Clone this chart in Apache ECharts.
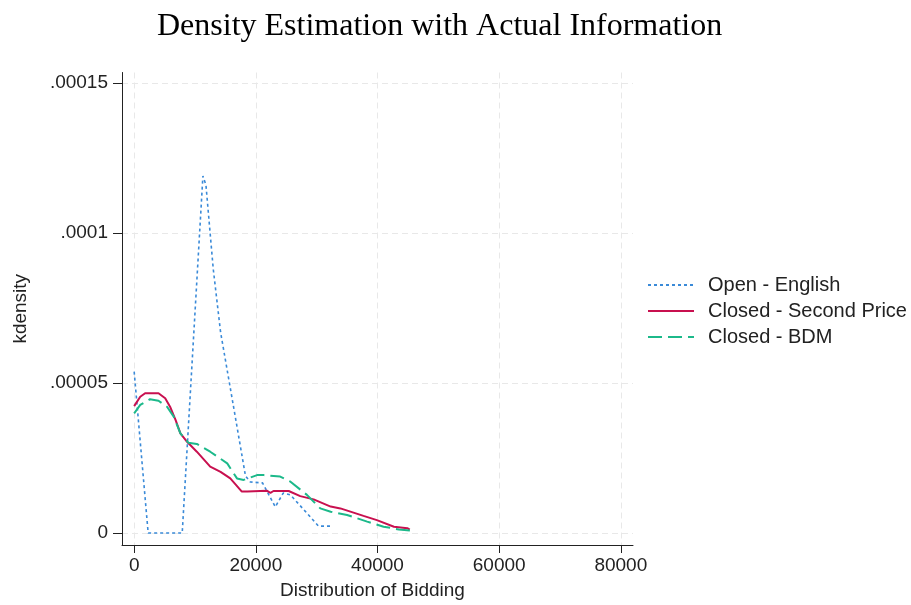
<!DOCTYPE html>
<html>
<head>
<meta charset="utf-8">
<style>
  html, body { margin: 0; padding: 0; background: #fff; }
  #chart-container { width: 911px; height: 605px; }
</style>
<script src="https://cdn.jsdelivr.net/npm/echarts@6/dist/echarts.min.js"></script>
</head>
<body>
<div id="chart-container"></div>
<script>
var dom = document.getElementById("chart-container");
var myChart = echarts.init(dom, null, {
  renderer: "canvas",
  useDirtyRect: false
});

// tick positions
var xTicks = [0, 20000, 40000, 60000, 80000];
var yTicks = [0, 0.00005, 0.0001, 0.00015];

// Open - English
var englishX = [0, 2300, 7900, 11300, 11800, 13000, 14200, 16600, 18300, 19100, 21100, 23200, 24500, 25700, 30300, 32600];
var englishY = [5.38e-5, 0, 0, 1.19e-4, 1.16e-4, 8.8e-5, 6.7e-5, 3.9e-5, 1.9e-5, 1.7e-5, 1.67e-5, 8.7e-6, 1.33e-5, 1.27e-5, 2.3e-6, 2.3e-6];

// Closed - Second Price
var secondX = [0, 1000, 1800, 4000, 5100, 5900, 6800, 7600, 8700, 10300, 12500, 14200, 15800, 17700, 18600, 21800, 22400, 22900, 25400, 27300, 29500, 32300, 33900, 37700, 39900, 42700, 44900, 45300];
var secondY = [4.23e-5, 4.54e-5, 4.66e-5, 4.66e-5, 4.49e-5, 4.21e-5, 3.77e-5, 3.32e-5, 3.04e-5, 2.71e-5, 2.21e-5, 2.04e-5, 1.82e-5, 1.38e-5, 1.38e-5, 1.41e-5, 1.34e-5, 1.40e-5, 1.40e-5, 1.23e-5, 1.12e-5, 8.8e-6, 8.2e-6, 5.7e-6, 4.3e-6, 2.1e-6, 1.6e-6, 1.1e-6];

// Closed - BDM
var bdmX = [0, 1000, 2600, 4000, 5400, 6500, 7600, 8900, 10300, 12500, 15300, 16900, 18000, 20200, 21300, 24000, 25700, 28400, 30600, 32300, 35000, 38300, 41000, 43500, 45400];
var bdmY = [3.99e-5, 4.27e-5, 4.46e-5, 4.41e-5, 4.21e-5, 3.88e-5, 3.32e-5, 3.01e-5, 2.97e-5, 2.71e-5, 2.32e-5, 1.82e-5, 1.77e-5, 1.93e-5, 1.93e-5, 1.88e-5, 1.71e-5, 1.27e-5, 8.2e-6, 7.1e-6, 6.0e-6, 3.8e-6, 2.1e-6, 1.2e-6, 8e-7];

function zip(xs, ys) {
  return xs.map(function (x, i) {
    return [x, ys[i]];
  });
}

var sans = "Liberation Sans";
var gridLine = { show: true, lineStyle: { color: "#e8e8e8", type: [6, 4], width: 1 } };

var option = {
  backgroundColor: "#fff",
  animation: false,
  title: {
    text: "Density Estimation with Actual Information",
    left: 157,
    top: 11,
    padding: 0,
    textStyle: {
      fontFamily: "Liberation Serif",
      fontSize: 32,
      fontWeight: "normal",
      color: "#000"
    }
  },
  legend: {
    orient: "vertical",
    left: 647,
    top: 275,
    padding: 0,
    itemWidth: 46,
    itemHeight: 14,
    itemGap: 6,
    itemStyle: { opacity: 0 },
    textStyle: {
      fontFamily: sans,
      fontSize: 20,
      lineHeight: 20,
      color: "#222",
      padding: [0, 0, 0, 9]
    },
    data: ["Open - English", "Closed - Second Price", "Closed - BDM"]
  },
  grid: {
    left: 122,
    top: 72.5,
    right: 278,
    bottom: 60,
    outerBoundsMode: "none"
  },
  xAxis: {
    type: "value",
    min: -2000,
    max: 82000,
    name: "Distribution of Bidding",
    nameLocation: "middle",
    nameGap: 36,
    nameTextStyle: { fontFamily: sans, fontSize: 19, color: "#222", padding: [0, 10, 0, 0] },
    axisLine: { show: true, onZero: false, lineStyle: { color: "#222", width: 1 } },
    axisTick: { show: true, length: 8, customValues: xTicks, lineStyle: { color: "#222" } },
    axisLabel: {
      customValues: xTicks,
      margin: 11,
      fontFamily: sans,
      fontSize: 19,
      color: "#222",
      formatter: function (v) {
        return String(v);
      }
    },
    splitLine: gridLine
  },
  yAxis: {
    type: "value",
    min: -0.000004,
    max: 0.0001535,
    name: "kdensity",
    nameLocation: "middle",
    nameGap: 92,
    nameTextStyle: { fontFamily: sans, fontSize: 19, color: "#222" },
    axisLine: { show: true, onZero: false, lineStyle: { color: "#222", width: 1 } },
    axisTick: { show: true, length: 9, customValues: yTicks, lineStyle: { color: "#222" } },
    axisLabel: {
      customValues: yTicks,
      margin: 14,
      fontFamily: sans,
      fontSize: 19,
      color: "#222",
      formatter: function (v) {
        return v === 0 ? "0" : String(v).replace(/^0/, "");
      }
    },
    splitLine: gridLine
  },
  series: [
    {
      name: "Open - English",
      type: "line",
      symbol: "none",
      data: zip(englishX, englishY),
      lineStyle: { color: "#3a8ad8", width: 1.6, type: [3, 3] },
      itemStyle: { color: "#3a8ad8" }
    },
    {
      name: "Closed - Second Price",
      type: "line",
      symbol: "none",
      data: zip(secondX, secondY),
      lineStyle: { color: "#c8104f", width: 2 },
      itemStyle: { color: "#c8104f" }
    },
    {
      name: "Closed - BDM",
      type: "line",
      symbol: "none",
      data: zip(bdmX, bdmY),
      lineStyle: { color: "#1cb98a", width: 2, type: [14, 6] },
      itemStyle: { color: "#1cb98a" }
    }
  ]
};

if (option && typeof option === "object") {
  myChart.setOption(option);
}

window.addEventListener("resize", myChart.resize);
</script>
</body>
</html>
